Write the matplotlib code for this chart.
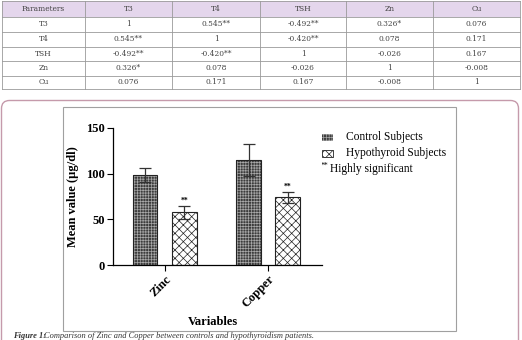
import matplotlib
matplotlib.use("Agg")
import matplotlib.pyplot as plt
from matplotlib.patches import FancyBboxPatch, Rectangle
import numpy as np

# ---------------- data ----------------
table_cols = ["Parameters", "T3", "T4", "TSH", "Zn", "Cu"]
table_rows = ["T3", "T4", "TSH", "Zn", "Cu"]
table_vals = [
    ["1", "0.545**", "-0.492**", "0.326*", "0.076"],
    ["0.545**", "1", "-0.420**", "0.078", "0.171"],
    ["-0.492**", "-0.420**", "1", "-0.026", "0.167"],
    ["0.326*", "0.078", "-0.026", "1", "-0.008"],
    ["0.076", "0.171", "0.167", "-0.008", "1"],
]

categories = ["Zinc", "Copper"]
control_mean = [98.5, 115]
control_err = [8, 18]
hypo_mean = [57.5, 74]
hypo_err = [7, 6]
series_names = ["Control Subjects", "Hypothyroid Subjects"]
sig_marks = ["**", "**"]

W, H = 522, 340
fig = plt.figure(figsize=(W / 100, H / 100), dpi=100)

def fx(px):
    return px / W

def fy(py):
    return 1 - py / H

bg = fig.add_axes([0, 0, 1, 1])
bg.set_xlim(0, W)
bg.set_ylim(H, 0)
bg.axis("off")

# ---------------- table ----------------
col_edges = [2, 85, 172, 260, 346, 433, 520]
row_edges = [1, 17, 32, 46.5, 61, 75.5, 89]
line_c = "#9a9a9a"
bg.add_patch(Rectangle((col_edges[0], row_edges[0]), col_edges[-1] - col_edges[0],
                       row_edges[1] - row_edges[0], facecolor="#e4d6ec", edgecolor="none"))
for xe in col_edges:
    bg.plot([xe, xe], [row_edges[0], row_edges[-1]], color=line_c, lw=0.6)
for ye in row_edges:
    bg.plot([col_edges[0], col_edges[-1]], [ye, ye], color=line_c, lw=0.6)
tfont = dict(family="DejaVu Serif", fontsize=5.4, color="#444444", ha="center", va="center")
for j, name in enumerate(table_cols):
    bg.text((col_edges[j] + col_edges[j + 1]) / 2, (row_edges[0] + row_edges[1]) / 2, name, **tfont)
for i, rname in enumerate(table_rows):
    yc = (row_edges[i + 1] + row_edges[i + 2]) / 2
    bg.text((col_edges[0] + col_edges[1]) / 2, yc, rname, **tfont)
    for j, v in enumerate(table_vals[i]):
        bg.text((col_edges[j + 1] + col_edges[j + 2]) / 2, yc, v, **tfont)

# ---------------- figure frames ----------------
bg.add_patch(FancyBboxPatch((1.5, 100.5), 517, 260, boxstyle="round,pad=0,rounding_size=8",
                            facecolor="white", edgecolor="#c59aab", lw=1.0))
bg.add_patch(Rectangle((63, 107), 393, 224, facecolor="white", edgecolor="#a0a0a0", lw=0.8))

cap_y = 339.5
bg.text(13, cap_y, "Figure 1:", fontsize=6, family="Liberation Serif", style="italic",
        fontweight="bold", va="bottom", ha="left", color="#333333")
bg.text(44, cap_y, "Comparison of Zinc and Copper between controls and hypothyroidism patients.",
        fontsize=6, family="Liberation Serif", style="italic", va="bottom", ha="left", color="#333333")

# ---------------- bar chart ----------------
ax_l, ax_r, ax_t, ax_b = 113, 322, 128, 265
ax = fig.add_axes([fx(ax_l), fy(ax_b), fx(ax_r - ax_l), (ax_b - ax_t) / H])
x = np.arange(len(categories))
bw = 0.24
off = 0.19
matplotlib.rcParams["hatch.linewidth"] = 0.5

ctrl_face, ctrl_hatch, ctrl_pat = "#3c3c3c", "#a8a8a8", "++++++"
ax.bar(x - off, control_mean, bw, facecolor=ctrl_face, edgecolor=ctrl_hatch,
       hatch=ctrl_pat, lw=0, zorder=2)
ax.bar(x - off, control_mean, bw, fill=False, edgecolor="#222222", lw=0.8, zorder=3)
ax.errorbar(x - off, control_mean, yerr=control_err, fmt="none", ecolor="#333333",
            elinewidth=0.9, capsize=4.5, capthick=0.9, zorder=4)

ax.bar(x + off, hypo_mean, bw, facecolor="white", edgecolor="#222222",
       hatch="xxxx", lw=0.8, zorder=2)
ax.errorbar(x + off, hypo_mean, yerr=hypo_err, fmt="none", ecolor="#333333",
            elinewidth=0.9, capsize=4.5, capthick=0.9, zorder=4)
for xi, m, e, s in zip(x + off, hypo_mean, hypo_err, sig_marks):
    ax.text(xi, m + e + 1, s, ha="center", va="bottom", fontsize=5.5,
            family="Liberation Serif", fontweight="bold")

ax.set_xlim(-0.5, 1.52)
ax.set_ylim(0, 150)
ax.set_yticks([0, 50, 100, 150])
ax.set_xticks(x)
ax.set_xticklabels(categories, rotation=45, ha="right", rotation_mode="anchor")
for lab in ax.get_xticklabels() + ax.get_yticklabels():
    lab.set_family("Liberation Serif")
    lab.set_fontweight("bold")
    lab.set_fontsize(9)
ax.tick_params(axis="both", direction="out", length=4, width=0.8, pad=2)
ax.spines["top"].set_visible(False)
ax.spines["right"].set_visible(False)
ax.spines["left"].set_linewidth(0.9)
ax.spines["bottom"].set_linewidth(0.9)
ax.set_ylabel("Mean value (µg/dl)", family="Liberation Serif", fontweight="bold", fontsize=9)
ax.yaxis.set_label_coords(-0.165, 0.5)
ax.set_xlabel("Variables", family="Liberation Serif", fontweight="bold", fontsize=9)
ax.xaxis.set_label_coords(0.48, -0.37)

# ---------------- legend (drawn manually) ----------------
leg_font = dict(family="Liberation Serif", fontsize=8.3, va="center", ha="left")
leg_rows = [137, 153]
leg_styles = [dict(facecolor=ctrl_face, edgecolor=ctrl_hatch, hatch=ctrl_pat, lw=0),
              dict(facecolor="white", edgecolor="#222222", hatch="xxxx", lw=0.6)]
for yc, name, st in zip(leg_rows, series_names, leg_styles):
    bg.add_patch(Rectangle((322, yc - 3.5), 11, 7, **st))
    bg.text(346, yc, name, **leg_font)
bg.text(321, 165.5, "**", fontsize=5.5, family="Liberation Serif", va="center", ha="left")
bg.text(330, 169, "Highly significant", **leg_font)

fig.savefig("out.png", dpi=100)
